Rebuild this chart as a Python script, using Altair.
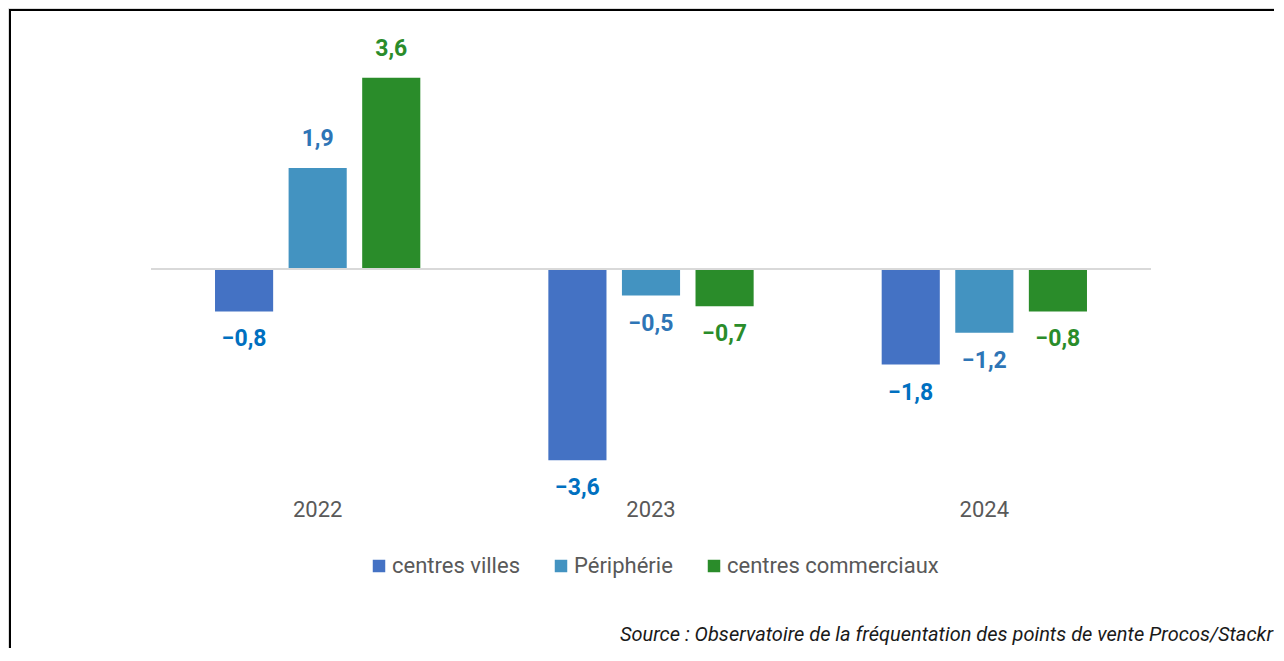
import altair as alt
import pandas as pd

years = ["2022", "2023", "2024"]
series = ["centres villes", "Périphérie", "centres commerciaux"]
centres_villes = [-0.8, -3.6, -1.8]
peripherie = [1.9, -0.5, -1.2]
centres_commerciaux = [3.6, -0.7, -0.8]
bar_colors = ["#4472C4", "#4393C1", "#2A8C2A"]
label_colors = ["#0070C0", "#2E75B6", "#2A8C2A"]
source_text = "Source : Observatoire de la fréquentation des points de vente Procos/Stackr"

rows = []
for s, vals, lc in zip(series, [centres_villes, peripherie, centres_commerciaux], label_colors):
    for yr, v in zip(years, vals):
        rows.append({"year": yr, "serie": s, "value": v, "lc": lc})
df = pd.DataFrame(rows)

W, H = 1266, 640
FONT = "Roboto"

x_enc = alt.X("year:N", axis=None, sort=years,
              scale=alt.Scale(range=[143, 1143], paddingInner=0, paddingOuter=0))
xo_enc = alt.XOffset("serie:N", sort=series,
                     scale=alt.Scale(paddingInner=0.21, paddingOuter=0.87))
y_scale = alt.Scale(domain=[-4, 4], range=[473.4, 48.6])
y_enc = alt.Y("value:Q", scale=y_scale, axis=None)

base = alt.Chart(df)

bars = base.mark_bar().encode(
    x=x_enc, xOffset=xo_enc, y=y_enc,
    color=alt.Color(
        "serie:N", sort=series,
        scale=alt.Scale(domain=series, range=bar_colors),
        legend=alt.Legend(
            orient="none", legendX=360, legendY=547, direction="horizontal",
            title=None, symbolType="square", symbolSize=156,
            symbolStrokeWidth=0, symbolOpacity=1, labelFontSize=22,
            labelColor="#595959", labelFont=FONT, labelOffset=2,
            labelLimit=400, columnPadding=30, padding=0,
        ),
    ),
)

lbl_expr = "replace(format(datum.value, '.1f'), '.', ',')"

pos_labels = base.transform_filter("datum.value >= 0").transform_calculate(
    lbl=lbl_expr
).mark_text(dy=-29, fontSize=23, fontWeight="bold", font=FONT).encode(
    x=x_enc, xOffset=xo_enc, y=y_enc, text="lbl:N",
    fill=alt.Fill("lc:N", scale=None),
)

neg_labels = base.transform_filter("datum.value < 0").transform_calculate(
    lbl=lbl_expr
).mark_text(dy=28, fontSize=23, fontWeight="bold", font=FONT).encode(
    x=x_enc, xOffset=xo_enc, y=y_enc, text="lbl:N",
    fill=alt.Fill("lc:N", scale=None),
)

zero_rule = alt.Chart(pd.DataFrame({"z": [0]})).mark_rule(
    color="#D9D9D9", strokeWidth=2
).encode(y=alt.Y("z:Q", scale=y_scale, axis=None), x=alt.value(143), x2=alt.value(1143))

year_labels = alt.Chart(pd.DataFrame({"year": years})).mark_text(
    fontSize=22, color="#595959", font=FONT, baseline="middle"
).encode(x=x_enc, y=alt.value(502), text="year:N")

one = pd.DataFrame({"a": [0]})
top_border = alt.Chart(one).mark_rule(color="black", strokeWidth=2).encode(
    x=alt.value(2), x2=alt.value(W), y=alt.value(2)
)
left_border = alt.Chart(one).mark_rule(color="black", strokeWidth=2).encode(
    x=alt.value(2), y=alt.value(1), y2=alt.value(H)
)

source = alt.Chart(one).mark_text(
    text=source_text, fontSize=20, fontStyle="italic", font=FONT,
    color="#1a1a1a", align="right", baseline="middle"
).encode(x=alt.value(W - 1), y=alt.value(627))

chart = alt.layer(
    bars, zero_rule, pos_labels, neg_labels, year_labels,
    top_border, left_border, source
).properties(
    width=W, height=H, padding=0, autosize=alt.AutoSizeParams(type="none")
).configure_view(stroke=None).configure(background="white")

chart.save("out.html", embed_options={"renderer": "svg", "actions": False})
